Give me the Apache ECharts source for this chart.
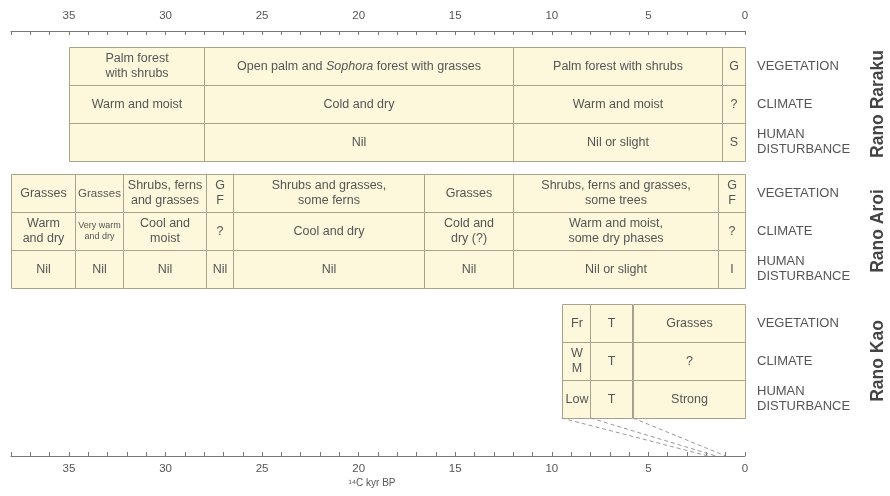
<!DOCTYPE html>
<html>
<head>
<meta charset="utf-8">
<script src="https://cdn.jsdelivr.net/npm/echarts@6/dist/echarts.min.js"></script>
<style>
  html, body { margin: 0; padding: 0; background: #fff; }
  #chart { width: 890px; height: 496px; }
</style>
</head>
<body>
<div id="chart"></div>
<script>
// Time axis (14C kyr BP), shared by every table
const axisMin = 0;
const axisMax = 38;
const rowNames = ['VEGETATION', 'CLIMATE', 'HUMAN\nDISTURBANCE'];
const siteNames = ['Rano Raraku', 'Rano Aroi', 'Rano Kao'];

// Rano Raraku: zone boundaries and zone texts per row
const rarakuBreaks = [35, 28, 12, 1.2, 0];
const rarakuVegetation = ['Palm forest\nwith shrubs', 'Open palm and {i|Sophora} forest with grasses', 'Palm forest with shrubs', 'G'];
const rarakuClimate = ['Warm and moist', 'Cold and dry', 'Warm and moist', '?'];
const rarakuHuman = ['', 'Nil', 'Nil or slight', 'S'];

// Rano Aroi
const aroiBreaks = [38, 34.7, 32.2, 27.9, 26.5, 16.6, 12, 1.4, 0];
const aroiVegetation = ['Grasses', '{n|Grasses}', 'Shrubs, ferns\nand grasses', 'G\nF', 'Shrubs and grasses,\nsome ferns', 'Grasses', 'Shrubs, ferns and grasses,\nsome trees', 'G\nF'];
const aroiClimate = ['Warm\nand dry', '{s|Very warm}\n{s|and dry}', 'Cool and\nmoist', '?', 'Cool and dry', 'Cold and\ndry (?)', 'Warm and moist,\nsome dry phases', '?'];
const aroiHuman = ['Nil', 'Nil', 'Nil', 'Nil', 'Nil', 'Nil', 'Nil or slight', 'I'];

// Rano Kao
const kaoBreaks = [9.5, 8.0, 5.8, 0];
const kaoVegetation = ['Fr', 'T', 'Grasses'];
const kaoClimate = ['W\nM', 'T', '?'];
const kaoHuman = ['Low', 'T', 'Strong'];

// Kao zone boundaries linked down to the time axis
const kaoLinkFrom = [9.5, 8.0, 5.8];
const kaoLinkTo = [1.9, 1.5, 1.0];

const FONT = "'Liberation Sans', Arial, sans-serif";
const TEXT = '#555';
const CELL_FILL = '#fdf8dc';
const CELL_LINE = '#a8a18b';

function buildCells(breaks, rows) {
  const cells = [];
  rows.forEach(function (labels, r) {
    labels.forEach(function (label, k) {
      cells.push({ value: [breaks[k], breaks[k + 1], r], label: label });
    });
  });
  return cells;
}

const tables = [
  buildCells(rarakuBreaks, [rarakuVegetation, rarakuClimate, rarakuHuman]),
  buildCells(aroiBreaks, [aroiVegetation, aroiClimate, aroiHuman]),
  buildCells(kaoBreaks, [kaoVegetation, kaoClimate, kaoHuman])
];

function cellSeries(cells, gi) {
  return {
    type: 'custom',
    xAxisIndex: gi,
    yAxisIndex: gi,
    encode: { x: [0, 1], y: 2 },
    data: cells.map(function (c) { return c.value; }),
    silent: true,
    renderItem: function (params, api) {
      const a = api.coord([api.value(0), api.value(2)]);
      const b = api.coord([api.value(1), api.value(2)]);
      const h = api.size([0, 1])[1];
      const x = Math.round(Math.min(a[0], b[0])) + 0.5;
      const w = Math.round(Math.abs(b[0] - a[0]));
      const y = Math.round(a[1] - h / 2) + 0.5;
      return {
        type: 'group',
        children: [
          {
            type: 'rect',
            shape: { x: x, y: y, width: w, height: Math.round(h) },
            style: { fill: CELL_FILL, stroke: CELL_LINE, lineWidth: 1 }
          },
          {
            type: 'text',
            x: x + w / 2,
            y: y + h / 2,
            style: {
              text: cells[params.dataIndex].label,
              align: 'center',
              verticalAlign: 'middle',
              fontFamily: FONT,
              fontSize: 12.5,
              lineHeight: 15,
              fill: TEXT,
              rich: {
                i: { fontStyle: 'italic', fontFamily: FONT, fontSize: 12.5, fill: TEXT },
                n: { fontFamily: FONT, fontSize: 11.5, fill: TEXT },
                s: { fontFamily: FONT, fontSize: 9, lineHeight: 11, fill: TEXT }
              }
            }
          }
        ]
      };
    }
  };
}

const gridTops = [47, 174, 304];
const grids = gridTops.map(function (t) {
  return { left: 11, width: 734, top: t, height: 114, containLabel: false, outerBoundsMode: 'none' };
});
grids.push({ left: 11, width: 734, top: 418, height: 38, containLabel: false, outerBoundsMode: 'none' });

function tickLabel(v) { return v % 5 === 0 ? String(v) : ''; }

const xAxes = [0, 1, 2, 3].map(function (i) {
  const ax = {
    type: 'value', gridIndex: i, min: axisMin, max: axisMax, interval: 1,
    inverse: true, show: false, splitLine: { show: false }
  };
  if (i === 0 || i === 3) {
    ax.show = true;
    ax.position = i === 0 ? 'top' : 'bottom';
    ax.offset = i === 0 ? 16 : 0;
    ax.axisLine = { show: true, lineStyle: { color: '#777', width: 1 } };
    ax.axisTick = { show: true, inside: true, length: 4, lineStyle: { color: '#777' } };
    ax.axisLabel = { formatter: tickLabel, color: TEXT, fontFamily: FONT, fontSize: 11.5, margin: i === 0 ? 9 : 7, showMinLabel: true, showMaxLabel: true };
  }
  if (i === 3) {
    ax.name = '¹⁴C kyr BP';
    ax.nameLocation = 'middle';
    ax.nameGap = 22;
    ax.nameTextStyle = { color: TEXT, fontFamily: FONT, fontSize: 10, padding: [0, 12, 0, 0] };
  }
  return ax;
});

const yAxes = [0, 1, 2].map(function (i) {
  return {
    type: 'category', gridIndex: i, data: rowNames, inverse: true, position: 'right',
    axisLine: { show: false }, axisTick: { show: false }, splitLine: { show: false },
    axisLabel: { margin: 12, align: 'left', color: TEXT, fontFamily: FONT, fontSize: 13, lineHeight: 15 },
    name: siteNames[i], nameLocation: 'middle', nameRotate: 90, nameGap: 124,
    nameTextStyle: { color: '#444', fontFamily: FONT, fontSize: 17.5, fontWeight: 'bold' }
  };
});
yAxes.push({ type: 'value', gridIndex: 3, min: 0, max: 1, show: false, splitLine: { show: false } });

const series = tables.map(function (cells, gi) { return cellSeries(cells, gi); });
series.push({
  type: 'lines',
  coordinateSystem: 'cartesian2d',
  xAxisIndex: 3,
  yAxisIndex: 3,
  silent: true,
  lineStyle: { color: '#999', width: 1, type: [4, 3], opacity: 1 },
  data: kaoLinkFrom.map(function (v, k) {
    return { coords: [[v, 1], [kaoLinkTo[k], 0]] };
  })
});

const chart = echarts.init(document.getElementById('chart'), null, { renderer: 'canvas' });
chart.setOption({
  backgroundColor: '#fff',
  animation: false,
  grid: grids,
  xAxis: xAxes,
  yAxis: yAxes,
  series: series
});
</script>
</body>
</html>
